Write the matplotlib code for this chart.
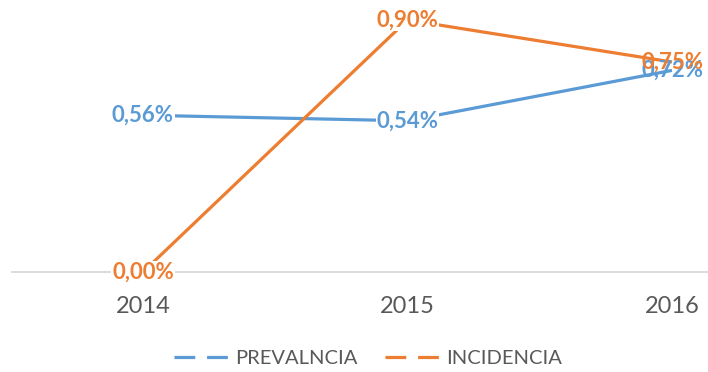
import matplotlib
matplotlib.use("Agg")
import matplotlib.pyplot as plt
from matplotlib.lines import Line2D

years = ["2014", "2015", "2016"]
prevalencia = [0.56, 0.54, 0.72]
incidencia = [0.00, 0.90, 0.75]
series_names = ["PREVALNCIA", "INCIDENCIA"]

blue = "#5B9BD5"
orange = "#ED7D31"

plt.rcParams['font.family'] = ['Lato', 'DejaVu Sans']

W, H = 708, 372
fig = plt.figure(figsize=(W/100, H/100), dpi=100)
x0_px, x2014_px, step_px = 12, 143, 264.5
ax_right_px = 708
y0_px, px_per_unit = 272, 280.0
left = x0_px / W
width = (ax_right_px - x0_px) / W
bottom = (H - y0_px) / H
height = y0_px / H
ax = fig.add_axes([left, bottom, width, height])
ax.set_xlim(-(x2014_px - x0_px) / step_px, 2 + (ax_right_px - (x2014_px + 2*step_px)) / step_px)
ax.set_ylim(0, y0_px / px_per_unit)

xs = list(range(len(years)))
ax.plot(xs, prevalencia, color=blue, lw=2.3, solid_capstyle='butt', zorder=2)
ax.plot(xs, incidencia, color=orange, lw=2.3, solid_capstyle='butt', zorder=2)

def fmt(v):
    return f"{v:.2f}%".replace(".", ",")

def draw_labels(series, other, color, z):
    for x, v, o in zip(xs, series, other):
        kw = {}
        if abs(v - o) > 0.08:  # knock the line out behind isolated labels
            kw['bbox'] = dict(facecolor='white', edgecolor='none', pad=0.5)
        ax.text(x, v, fmt(v), color=color, fontsize=16, fontweight='bold',
                ha='center', va='center', zorder=z, **kw)

draw_labels(prevalencia, incidencia, blue, 3)
draw_labels(incidencia, prevalencia, orange, 4)

for s in ['top', 'right', 'left']:
    ax.spines[s].set_visible(False)
ax.spines['bottom'].set_color('#D9D9D9')
ax.spines['bottom'].set_linewidth(1.3)
ax.spines['bottom'].set_clip_on(False)
ax.spines['bottom'].set_zorder(2.5)
ax.set_yticks([])
ax.set_xticks(xs)
ax.set_xticklabels(years, fontsize=17, color='#595959')
ax.tick_params(axis='x', length=0, pad=17)

handles = [Line2D([0], [0], color=blue, lw=2.3, linestyle=(0, (6.5, 3.7))),
           Line2D([0], [0], color=orange, lw=2.3, linestyle=(0, (6.5, 3.7)))]
fig.legend(handles, series_names, loc='center', bbox_to_anchor=(368/W, 1 - 358/H),
           ncol=2, frameon=False, fontsize=14.5, handlelength=2.7,
           handletextpad=0.3, columnspacing=1.4, labelcolor='#595959')

fig.savefig("out.png", dpi=100)
